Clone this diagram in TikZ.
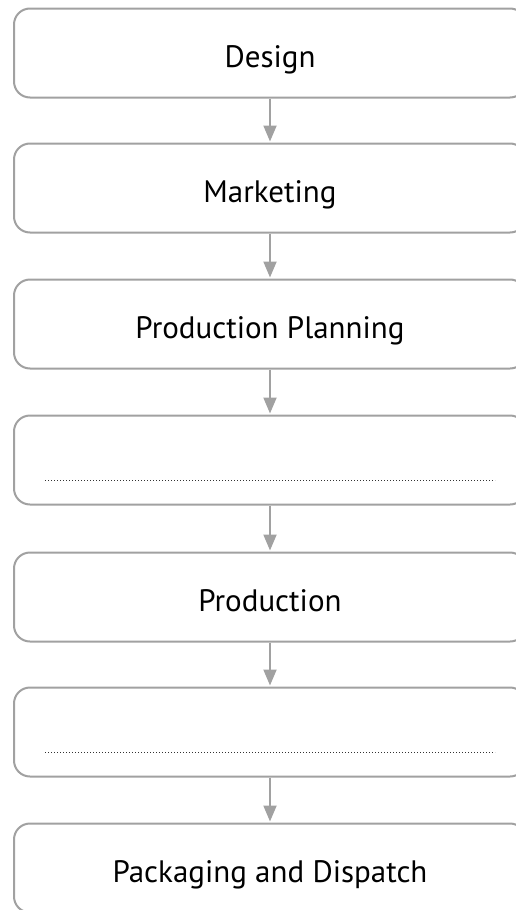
\documentclass[tikz,border=0pt]{standalone}
\usepackage{fontspec}
\setmainfont{PT Sans}
\usetikzlibrary{arrows.meta}

\begin{document}
\begin{tikzpicture}[x=1pt, y=1pt,
  step box/.style = {draw=black!37, line width=2pt, rounded corners=16pt, fill=white,
                     minimum width=512pt, minimum height=89pt, inner sep=0pt,
                     text height=28pt, text depth=0pt,
                     font=\fontsize{31}{36}\selectfont},
  flow/.style = {draw=black!37, line width=2pt, -{Triangle[width=13pt, length=16pt]}, shorten >=1pt},
  blank line/.style = {draw=black!80, line width=1pt, dash pattern=on 1pt off 2pt}]

\useasboundingbox (0, 0) rectangle (515, -910);

\node[step box] (S1) at (270, -53) {Design};
\node[step box] (S2) at (270, -188) {Marketing};
\node[step box] (S3) at (270, -324) {Production Planning};
\node[step box] (S4) at (270, -460) {};
\node[step box] (S5) at (270, -597) {Production};
\node[step box] (S6) at (270, -732) {};
\node[step box] (S7) at (270, -868) {Packaging and Dispatch};

\draw[flow] (S1) -- (S2);
\draw[flow] (S2) -- (S3);
\draw[flow] (S3) -- (S4);
\draw[flow] (S4) -- (S5);
\draw[flow] (S5) -- (S6);
\draw[flow] (S6) -- (S7);

% lines to fill in
\draw[blank line] ([shift={(-225, -20.5)}]S4.center) -- ([shift={(225, -20.5)}]S4.center);
\draw[blank line] ([shift={(-225, -20.5)}]S6.center) -- ([shift={(225, -20.5)}]S6.center);

\end{tikzpicture}
\end{document}
